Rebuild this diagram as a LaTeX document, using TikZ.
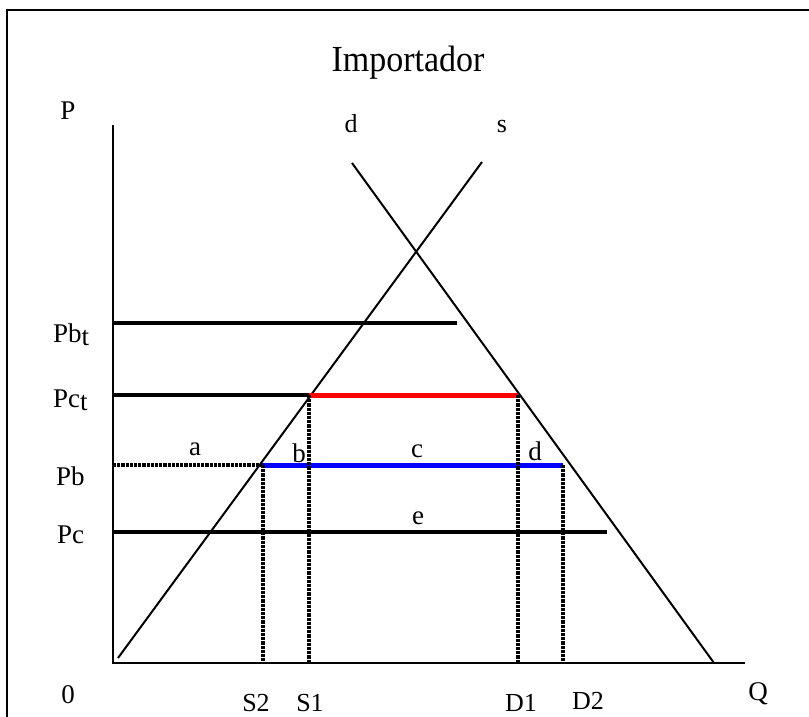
\documentclass[tikz,border=0pt]{standalone}
\usepackage{fontspec}
\setmainfont{Liberation Serif}
\usetikzlibrary{positioning}
\tikzstyle{axis} = [line width=2.2pt]
\tikzstyle{curve} = [line width=2pt]
\tikzstyle{price} = [line width=3.2pt]
\tikzstyle{qty} = [line width=3.2pt, densely dotted]
\tikzstyle{lbl} = [font=\fontsize{27}{30}\selectfont, inner sep=0pt, anchor=base]
\tikzstyle{qlbl} = [font=\fontsize{26}{30}\selectfont, inner sep=0pt, anchor=base]

\begin{document}
\begin{tikzpicture}[x=1pt, y=-1pt]
\useasboundingbox (0,0) rectangle (809,717);
\draw [line width=2.2pt] (7,10) rectangle (840,760);

\node [anchor=base, inner sep=0pt, font=\fontsize{34}{38}\selectfont] (title) at (408,72) {\scalebox{1}[1.08]{Importador}};

% axes
\coordinate (O) at (113,663);
\coordinate (ytop) at (113,125);
\coordinate (xend) at (745,663);
\draw [axis] (ytop) -- (O) -- (xend);
\node [lbl] (P) at (68,120) {P};
\node [lbl] (zero) at (68,703) {0};
\node [lbl] (Q) at (758,700) {Q};

% supply and demand
\coordinate (s0) at (118,658);
\coordinate (s1) at (482,162);
\coordinate (d0) at (352,163);
\coordinate (d1) at (714,663);
\draw [curve] (s0) -- (s1);
\draw [curve] (d0) -- (d1);
\node [qlbl] (dlab) at (351,132) {d};
\node [qlbl] (slab) at (502,132) {s};

% prices
\coordinate (pbt0) at (113,323);
\coordinate (pbt1) at (457,323);
\coordinate (pct0) at (113,395);
\coordinate (pct1) at (309,395);
\coordinate (pct2) at (518,395);
\coordinate (pb0) at (113,465);
\coordinate (pb1) at (263,465);
\coordinate (pb2) at (563,465);
\coordinate (pc0) at (113,532);
\coordinate (pc1) at (607,532);
\draw [price] (pbt0) -- (pbt1);
\draw [price] (pct0) -- (pct1);
\draw [price, red, line width=5pt] (pct1) -- (pct2);
\draw [qty] (pb0) -- (pb1);
\draw [price, blue, line width=5pt] (pb1) -- (pb2);
\draw [price] (pc0) -- (pc1);

\node [lbl, anchor=base west] (Pbt) at (53,342) {Pb\raisebox{-3pt}{t}};
\node [lbl, anchor=base west] (Pct) at (53,407) {Pc\raisebox{-3pt}{t}};
\node [lbl, anchor=base west] (Pb) at (56,485) {Pb};
\node [lbl, anchor=base west] (Pc) at (57,543) {Pc};

% quantities
\coordinate (S2) at (263,663);
\coordinate (S1) at (309,663);
\coordinate (D1) at (518,663);
\coordinate (D2) at (563,663);
\draw [qty] (pb1) -- (S2);
\draw [qty] (pct1) -- (S1);
\draw [qty] (pct2) -- (D1);
\draw [qty] (pb2) -- (D2);
\node [qlbl] (S2lab) at (256,711) {S2};
\node [qlbl] (S1lab) at (310,711) {S1};
\node [qlbl] (D1lab) at (521,711) {D1};
\node [qlbl] (D2lab) at (588,709) {D2};

% areas
\node [lbl] (a) at (195,455) {a};
\node [lbl] (b) at (299,462) {b};
\node [lbl] (c) at (417,457) {c};
\node [lbl] (d) at (535,460) {d};
\node [lbl] (e) at (418,524) {e};

\end{tikzpicture}
\end{document}
